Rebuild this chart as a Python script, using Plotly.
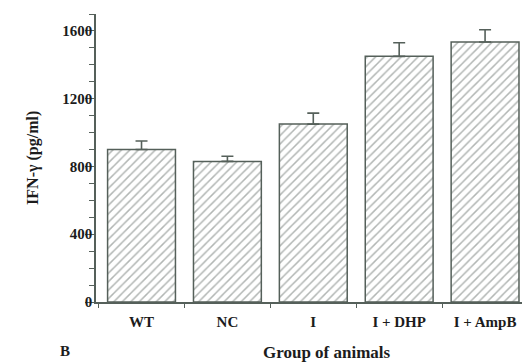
import plotly.graph_objects as go

# IFN-gamma levels per animal group (pg/ml), mean and error
groups = ["WT", "NC", "I", "I + DHP", "I + AmpB"]
ifn_gamma = [900, 830, 1050, 1450, 1535]
ifn_err = [50, 30, 65, 80, 72]

y_ticks = [0, 400, 800, 1200, 1600]

FONT = "Liberation Serif"
INK = "#1c1c1c"
LINE = "#55605a"

fig = go.Figure(
    go.Bar(
        x=groups,
        y=ifn_gamma,
        error_y=dict(type="data", array=ifn_err, symmetric=False,
                     arrayminus=[0] * len(ifn_err),
                     color=LINE, thickness=1.6, width=6),
        marker=dict(
            color="white",
            line=dict(color=LINE, width=1.5),
            pattern=dict(shape="/", fgcolor="#656e69", bgcolor="white",
                         size=6, solidity=0.25),
        ),
    )
)

fig.update_layout(
    width=522,
    height=362,
    margin=dict(l=96, r=0, t=14, b=60),
    plot_bgcolor="white",
    paper_bgcolor="white",
    bargap=0.21,
    showlegend=False,
    font=dict(family=FONT, color=INK, size=15, weight="bold"),
)

fig.update_xaxes(
    range=[-0.53, 4.43],
    showline=True, linecolor=LINE, linewidth=1.5,
    ticks="outside", tickson="boundaries", ticklen=4, tickcolor=LINE,
    tickfont=dict(family=FONT, size=15, color=INK, weight="bold"),
    ticklabelstandoff=5,
    showgrid=False, zeroline=False,
)

fig.update_yaxes(
    range=[0, 1700],
    tickvals=y_ticks,
    showline=True, linecolor=LINE, linewidth=1.5,
    ticks="outside", ticklen=9, tickcolor=LINE, tickwidth=1.2,
    minor=dict(dtick=100, ticks="outside", ticklen=5, tickcolor=LINE, tickwidth=1),
    tickfont=dict(family=FONT, size=15, color=INK, weight="bold"),
    ticklabelstandoff=-10,
    showgrid=False, zeroline=False,
)

fig.add_annotation(text="IFN-γ (pg/ml)", xref="paper", yref="paper",
                   x=-0.174, y=0.5, textangle=-90, showarrow=False,
                   font=dict(family=FONT, size=16, color=INK, weight="bold"))
fig.add_annotation(text="Group of animals", xref="paper", yref="paper",
                   x=0.542, y=-0.215, showarrow=False,
                   font=dict(family=FONT, size=17, color=INK, weight="bold"))
fig.add_annotation(text="B", xref="paper", yref="paper",
                   x=-0.09, y=-0.205, showarrow=False,
                   font=dict(family=FONT, size=15, color=INK))

fig.write_html("out.html")
